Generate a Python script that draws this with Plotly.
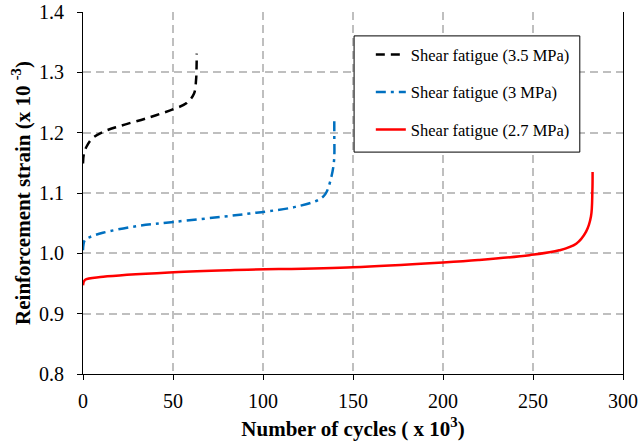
import plotly.graph_objects as go

# Shear fatigue 3.5 MPa
x35 = [0, 0.5, 2, 5, 11.3, 20.5, 35.4, 50.2, 57.6, 61.7, 62.8, 63.1, 63.2]
y35 = [1.149, 1.165, 1.177, 1.19, 1.2015, 1.211, 1.224, 1.239, 1.249, 1.265, 1.287, 1.31, 1.331]

# Shear fatigue 3 MPa
x30 = [0, 1, 3.9, 11, 29.6, 50.4, 81.5, 92.6, 103.7, 118, 131, 134.8, 138, 139.5, 139.6, 139.6]
y30 = [1.005, 1.022, 1.027, 1.034, 1.045, 1.052, 1.062, 1.066, 1.070, 1.077, 1.089, 1.099, 1.127, 1.155, 1.199, 1.222]

# Shear fatigue 2.7 MPa
x27 = [0, 1.1, 11.2, 50.4, 81.5, 150, 200, 219.6, 248, 264.6, 274, 279.5, 282.2, 283, 283.1]
y27 = [0.947, 0.956, 0.961, 0.9685, 0.972, 0.977, 0.985, 0.989, 0.997, 1.005, 1.016, 1.036, 1.061, 1.105, 1.135]

names = ["Shear fatigue (3.5 MPa)", "Shear fatigue (3 MPa)", "Shear fatigue (2.7 MPa)"]

FAM = "Liberation Serif, Times New Roman, serif"

fig = go.Figure()
fig.add_trace(go.Scatter(x=x35, y=y35, mode="lines", name=names[0], legendgroup="a",
                         line=dict(color="black", width=2.5, dash="9px,6px", shape="spline")))
fig.add_trace(go.Scatter(x=x30, y=y30, mode="lines", name=names[1], legendgroup="b",
                         line=dict(color="#0070C0", width=2.5, dash="10px,5px,3px,5px", shape="spline")))
fig.add_trace(go.Scatter(x=x27, y=y27, mode="lines", name=names[2], legendgroup="c",
                         line=dict(color="#FF0000", width=2.5, shape="spline")))

# legend frame
fig.add_shape(type="rect", xref="paper", yref="paper", x0=0.502, x1=0.920, y0=0.613, y1=0.934,
              line=dict(color="black", width=1), fillcolor="white", layer="above")

grid = dict(showgrid=True, gridcolor="#BFBFBF", gridwidth=1.5, griddash="8px,5px")
fig.update_layout(
    width=641, height=446,
    margin=dict(l=83, r=18, t=12, b=72, autoexpand=False),
    paper_bgcolor="white", plot_bgcolor="white",
    font=dict(family=FAM, color="black"),
    xaxis=dict(range=[0, 300], dtick=50, ticks="outside", ticklen=5, tickcolor="black",
               showline=True, linecolor="black", linewidth=1, zeroline=False, automargin=False,
               tickfont=dict(size=20, family=FAM, color="black"), ticklabelstandoff=4,
               title=dict(text="<b>Number of cycles ( x 10<sup>3</sup>)</b>",
                          font=dict(size=21, family=FAM, color="black"), standoff=10),
               **grid),
    yaxis=dict(range=[0.8, 1.4], dtick=0.1, tickformat=".1f", ticks="outside", ticklen=5,
               tickcolor="black", showline=True, linecolor="black", linewidth=1, mirror=True,
               zeroline=False, automargin=False, tickfont=dict(size=20, family=FAM, color="black"),
               ticklabelstandoff=9,
               title=dict(text="<b>Reinforcement strain (x 10 <sup>-3</sup>)</b>",
                          font=dict(size=21, family=FAM, color="black"), standoff=2),
               **grid),
    legend=dict(x=0.533, y=0.93, xanchor="left", yanchor="top", bgcolor="rgba(0,0,0,0)",
                borderwidth=0, font=dict(size=16.5, family=FAM, color="black"),
                traceorder="grouped", tracegroupgap=13),
)
fig.write_html("out.html")
